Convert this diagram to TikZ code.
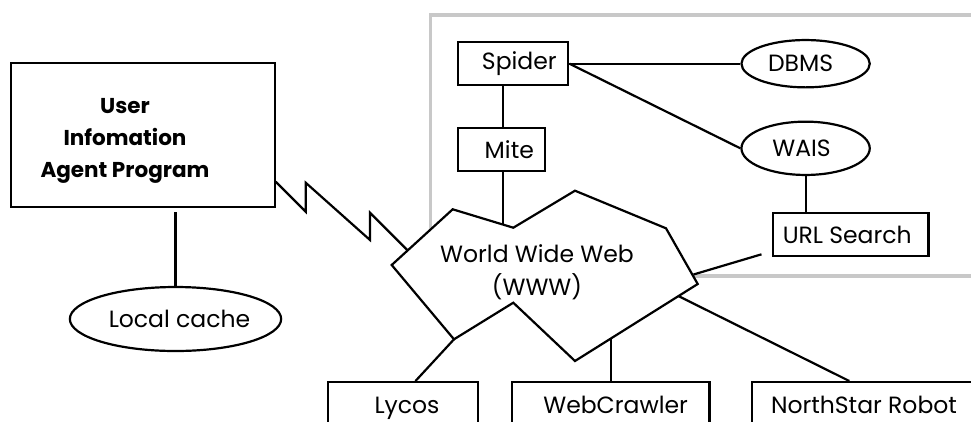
\documentclass[tikz,border=0pt]{standalone}
\usepackage{fontspec}
\setmainfont{Poppins}
\usetikzlibrary{shapes.geometric}
\definecolor{framegray}{RGB}{200,200,200}
\newcommand\rsh[2]{\hspace*{#1}#2}
\newcommand\lsh[2]{#2\hspace*{#1}}
\begin{document}
\begin{tikzpicture}[x=1pt,y=-1pt,line width=2.2pt,
  txt/.style={font=\fontsize{23.5}{28}\selectfont},
  box/.style={draw,rectangle,inner sep=0pt,txt},
  oval/.style={draw,ellipse,inner sep=0pt,txt},
  cutbox/.style={draw,rectangle,inner sep=0pt,txt,text height=31.7pt,text depth=27.3pt},
  link/.style={line width=2.2pt}]
\clip (0,0) rectangle (971,421);
% gray frame
\draw[framegray,line width=3.5pt] (430.5,15) rectangle (1000,276);
% cloud
\coordinate (cA) at (452.7,209.3);
\coordinate (cB) at (513.3,227.7);
\coordinate (cC) at (575,190.7);
\coordinate (cD) at (666,228.3);
\coordinate (cE) at (697.7,284);
\coordinate (cF) at (575,361);
\coordinate (cG) at (513.3,302.7);
\coordinate (cH) at (454,339.3);
\coordinate (cI) at (391.7,265);
\draw[fill=white,line join=miter] (cA)--(cB)--(cC)--(cD)--(cE)--(cF)--(cG)--(cH)--(cI)--cycle;
\node[align=center,font=\fontsize{23.5}{33}\selectfont] (www) at (537,272) {World Wide Web\\(WWW)};
% nodes
\node[box,minimum width=264pt,minimum height=144pt,font=\bfseries\fontsize{21.5}{31.8}\selectfont] (user) at (143,135)
  {\raisebox{-4pt}[\height][\depth]{\begin{tabular}{@{}c@{}}User\\Infomation\\Agent Program\end{tabular}}\hspace*{36pt}};
\node[oval,minimum width=177pt,minimum height=64pt] (cache) at (175.5,319) {\rsh{8pt}{Local cache}};
\node[box,minimum width=110.7pt,minimum height=42.7pt] (spider) at (513,63.7) {\rsh{12.6pt}{Spider}};
\node[box,minimum width=86.7pt,minimum height=43pt] (mite) at (501.3,149.2) {\rsh{16pt}{Mite}};
\node[oval,minimum width=128.3pt,minimum height=47.3pt] (dbms) at (805.6,63.7) {\lsh{10pt}{DBMS}};
\node[oval,minimum width=128.3pt,minimum height=53.3pt] (wais) at (805.6,148.3) {\lsh{8pt}{WAIS}};
\node[box,minimum width=155.4pt,minimum height=42.4pt] (url) at (850.7,234.5) {\lsh{7pt}{URL Search}};
\node[cutbox,minimum width=149.4pt,anchor=north] (lycos) at (403,381) {\rsh{8pt}{Lycos}};
\node[cutbox,minimum width=197.6pt,anchor=north] (crawler) at (610.6,381) {\rsh{10pt}{WebCrawler}};
\node[cutbox,minimum width=248.3pt,anchor=north] (north) at (875.85,381) {\lsh{23.7pt}{NorthStar Robot}};
% connector end points
\coordinate (mA) at (503.3,224.7);
\coordinate (uA) at (693.5,274.5);
\coordinate (uB) at (761.5,254.3);
\coordinate (nW) at (678.3,296);
\coordinate (nT) at (849.3,381);
\coordinate (wC) at (610.6,338.7);
\coordinate (lT) at (415.5,381);
\coordinate (z0) at (275.7,181.7);
\coordinate (z1) at (305.7,211.7);
\coordinate (z2) at (305.7,182.7);
\coordinate (z3) at (370,240);
\coordinate (z4) at (370,212.7);
\coordinate (zE) at (407.7,250.4);
% connectors
\draw[link] (spider.south -| mA) -- (mite.north -| mA);
\draw[link] (mite.south -| mA) -- (mA);
\draw[link] (spider.east) -- (dbms.west);
\draw[link] (spider.east) -- (wais.west);
\draw[link] (wais.south) -- (wais.south |- url.north);
\draw[link] (uA) -- (uB);
\draw[link] (nW) -- (nT);
\draw[link] (wC) -- (crawler.north);
\draw[link] (cH) -- (lT);
\draw[link,shorten <=4pt] (user.south -| cache.north) -- (cache.north);
\draw[link,line join=miter] (z0) -- (z1) -- (z2) -- (z3) -- (z4) -- (zE);
\end{tikzpicture}
\end{document}
